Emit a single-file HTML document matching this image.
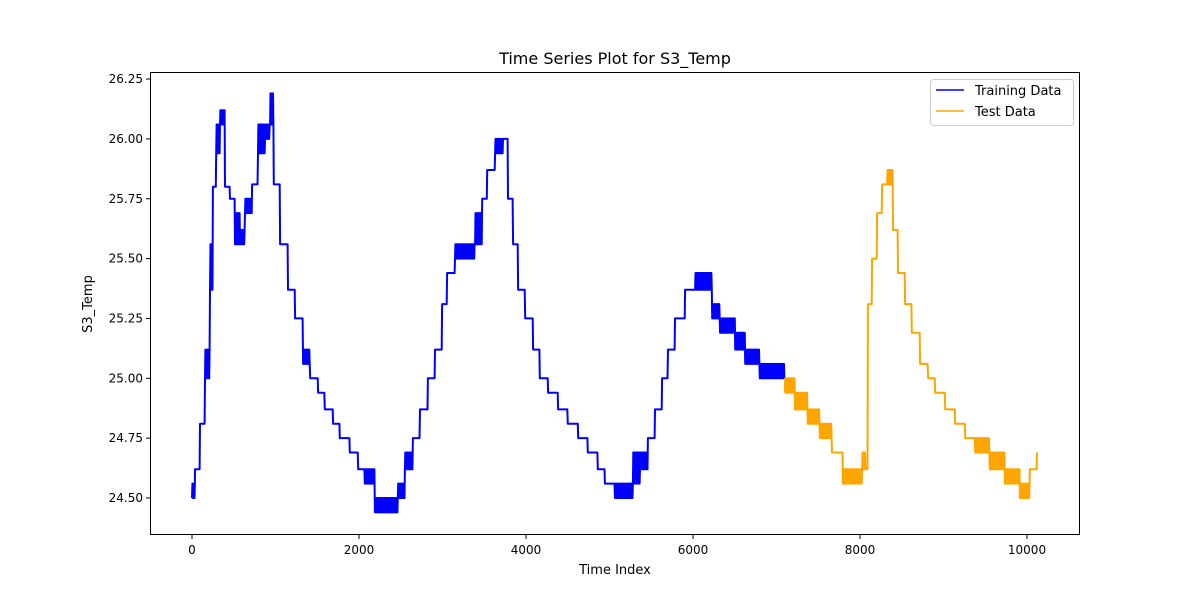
<!DOCTYPE html>
<html><head><meta charset="utf-8"><style>
body{margin:0;background:#fff;}
svg{display:block;font-family:"DejaVu Sans","Liberation Sans",sans-serif;}
</style></head><body>
<svg id="chart" width="1200" height="600">
<rect x="0" y="0" width="1200" height="600" fill="#fff"/>
<text x="615" y="64" font-size="16" text-anchor="middle">Time Series Plot for S3_Temp</text>
<g id="plot"></g>
<rect x="150.5" y="72.5" width="929" height="462" fill="none" stroke="#000" stroke-width="1"/>
<text x="615" y="574" font-size="13" text-anchor="middle">Time Index</text>
<text x="92" y="304" font-size="13" text-anchor="middle" transform="rotate(-90 92 304)">S3_Temp</text>
<g>
<rect x="930.5" y="79.5" width="143" height="46" rx="3" fill="#fff" fill-opacity="0.8" stroke="#ccc"/>
<g>
<line x1="936" y1="90" x2="964" y2="90" stroke="#0000ff" stroke-width="1.5"/>
<text x="975" y="95" font-size="13">Training Data</text></g>
<g>
<line x1="936" y1="111" x2="964" y2="111" stroke="#ffa500" stroke-width="1.5"/>
<text x="975" y="116" font-size="13">Test Data</text></g>
</g>
</svg>
<script>
const trainIdx=[0,36,96,156,216,250,290,335,395,455,515,575,635,720,790,875,935,980,1055,1150,1235,1330,1415,1510,1590,1690,1770,1890,1990,2070,2190,2370,2465,2550,2645,2730,2825,2910,2995,3055,3150,3270,3390,3475,3535,3630,3725,3785,3845,3905,3990,4085,4165,4265,4385,4500,4625,4740,4860,4945,5065,5185,5280,5365,5460,5545,5630,5700,5785,5905,6025,6145,6230,6325,6505,6625,6800,6945,7100];
const trainLo=[24.5,24.62,24.81,25.0,25.37,25.8,25.94,26.06,25.8,25.75,25.56,25.56,25.69,25.81,25.94,26.0,26.06,25.81,25.56,25.37,25.25,25.06,25.0,24.94,24.87,24.81,24.75,24.69,24.62,24.56,24.44,24.44,24.5,24.62,24.75,24.87,25.0,25.12,25.31,25.44,25.5,25.5,25.56,25.75,25.87,25.94,26.0,25.75,25.56,25.37,25.25,25.12,25.0,24.94,24.87,24.81,24.75,24.69,24.62,24.56,24.5,24.5,24.56,24.62,24.75,24.87,25.0,25.12,25.25,25.37,25.37,25.37,25.25,25.19,25.12,25.06,25.0,25.0,25.0];
const trainHi=[24.56,24.62,24.81,25.12,25.56,25.8,26.06,26.12,25.8,25.75,25.69,25.62,25.75,25.81,26.06,26.06,26.19,25.81,25.56,25.37,25.25,25.12,25.0,24.94,24.87,24.81,24.75,24.69,24.62,24.62,24.5,24.5,24.56,24.69,24.75,24.87,25.0,25.12,25.31,25.44,25.56,25.56,25.69,25.75,25.87,26.0,26.0,25.75,25.56,25.37,25.25,25.12,25.0,24.94,24.87,24.81,24.75,24.69,24.62,24.56,24.56,24.56,24.69,24.69,24.75,24.87,25.0,25.12,25.25,25.37,25.44,25.44,25.31,25.25,25.19,25.12,25.06,25.06,25.0];
const testIdx=[7100,7220,7375,7520,7665,7795,7940,8025,8070,8095,8145,8205,8265,8325,8395,8455,8540,8620,8720,8815,8900,9020,9140,9260,9380,9555,9735,9915,10035,10120];
const testLo=[24.94,24.87,24.81,24.75,24.69,24.56,24.56,24.62,24.62,25.31,25.5,25.69,25.81,25.81,25.62,25.44,25.31,25.19,25.06,25.0,24.94,24.87,24.81,24.75,24.69,24.62,24.56,24.5,24.62,24.69];
const testHi=[25.0,24.94,24.87,24.81,24.69,24.62,24.62,24.69,24.62,25.31,25.5,25.69,25.81,25.87,25.62,25.44,25.31,25.19,25.06,25.0,24.94,24.87,24.81,24.75,24.75,24.69,24.62,24.56,24.62,24.69];
const xTicks=[0,2000,4000,6000,8000,10000];
const yTicks=[24.5,24.75,25.0,25.25,25.5,25.75,26.0,26.25];

const NS="http://www.w3.org/2000/svg";
const X=i=>192+i*0.0835;
const Y=v=>498-(v-24.5)*239.4;
const g=document.getElementById('plot');
function mk(t,a){const e=document.createElementNS(NS,t);for(const k in a)e.setAttribute(k,a[k]);g.appendChild(e);return e;}
xTicks.forEach(t=>{
  const l=mk('line',{x1:X(t),x2:X(t),y1:535,y2:539,stroke:'#000'});
  
  
  const tx=mk('text',{x:X(t),y:554,'font-size':12,'text-anchor':'middle'});
  tx.textContent=t;
  
  
});
yTicks.forEach(t=>{
  const l=mk('line',{x1:146,x2:150,y1:Y(t),y2:Y(t),stroke:'#000'});
  
  
  const tx=mk('text',{x:143,y:Y(t)+4,'font-size':12,'text-anchor':'end'});
  tx.textContent=t.toFixed(2);
  
  
});
function series(idx,lo,hi,color,name){
  let pts=[];
  for(let k=0;k<idx.length-1;k++){
    const a=idx[k],b=idx[k+1];
    let s=0;
    for(let i=a;i<b;i+=5){pts.push(X(i).toFixed(1)+','+Y(s%2?hi[k]:lo[k]).toFixed(1));s++;}
  }
  const n=idx.length-1;
  pts.push(X(idx[n]).toFixed(1)+','+Y(lo[n]).toFixed(1));
  const p=mk('polyline',{points:pts.join(' '),fill:'none',stroke:color,'stroke-width':2,'stroke-linejoin':'round'});
  
  
}
series(trainIdx,trainLo,trainHi,'#0000ff','training-data-line');
series(testIdx,testLo,testHi,'#ffa500','test-data-line');
</script>
</body></html>
